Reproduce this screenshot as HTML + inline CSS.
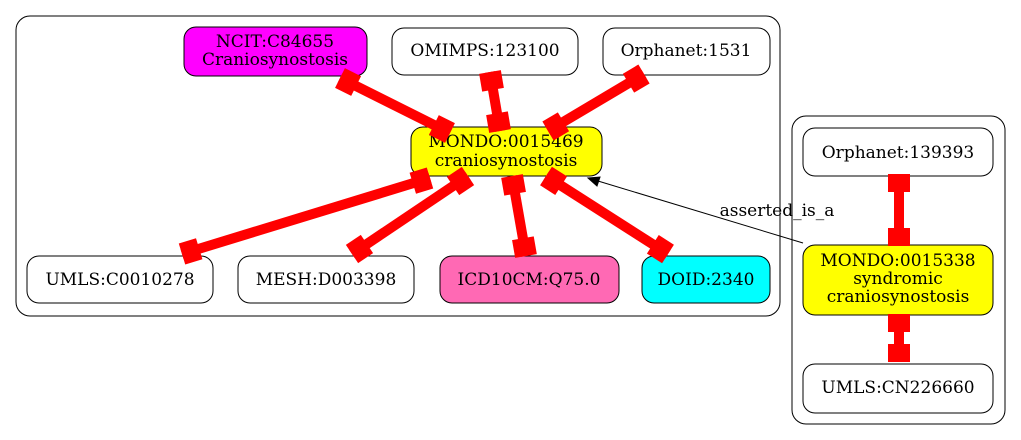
<!DOCTYPE html>
<html><head><meta charset="utf-8"><style>
html,body{margin:0;padding:0;background:#fff;width:1021px;height:440px;overflow:hidden}
svg text{font-family:"DejaVu Serif","Liberation Serif",serif;font-size:17px;text-anchor:middle}
</style></head><body>
<svg id="s" width="1021" height="440" viewBox="0 0 1021 440" xmlns="http://www.w3.org/2000/svg">
<rect x="16" y="16" width="764" height="300" rx="14" fill="#fff" stroke="#000"/>
<rect x="792" y="116" width="213" height="308" rx="14" fill="#fff" stroke="#000"/>
<g stroke="#000" stroke-width="1">
<rect x="184" y="27" width="183" height="49" rx="12" fill="#ff00ff"/>
<rect x="392" y="28" width="186" height="47" rx="12" fill="#fff"/>
<rect x="603" y="28" width="167" height="47" rx="12" fill="#fff"/>
<rect x="411" y="127" width="191" height="49" rx="12" fill="#ffff00"/>
<rect x="27" y="256" width="186" height="47" rx="12" fill="#fff"/>
<rect x="238" y="256" width="176" height="47" rx="12" fill="#fff"/>
<rect x="440" y="256" width="179" height="47" rx="12" fill="#ff69b4"/>
<rect x="642" y="256" width="128" height="47" rx="12" fill="#00ffff"/>
<rect x="803" y="128" width="190" height="48" rx="12" fill="#fff"/>
<rect x="803" y="245" width="190" height="70" rx="12" fill="#ffff00"/>
<rect x="803" y="364" width="190" height="49" rx="12" fill="#fff"/>
</g>
<g>
<text x="275" y="47">NCIT:C84655</text><text x="275" y="65">Craniosynostosis</text>
<text x="485" y="56">OMIMPS:123100</text>
<text x="686" y="56">Orphanet:1531</text>
<text x="506" y="147">MONDO:0015469</text><text x="506" y="166">craniosynostosis</text>
<text x="120" y="285">UMLS:C0010278</text>
<text x="326" y="285">MESH:D003398</text>
<text x="529" y="285">ICD10CM:Q75.0</text>
<text x="706" y="285">DOID:2340</text>
<text x="898" y="158">Orphanet:139393</text>
<text x="898" y="266">MONDO:0015338</text><text x="898" y="284">syndromic</text><text x="898" y="302">craniosynostosis</text>
<text x="898" y="393">UMLS:CN226660</text>
<text x="777" y="216">asserted_is_a</text>
</g>
<line x1="803" y1="243" x2="598" y2="181" stroke="#000" stroke-width="1"/>
<polygon points="588,178 600,177 597,186" fill="#000" stroke="#000"/>
<g id="e"></g>
</svg>
<script>
var edges=[[340,78,450,133],[490,72,500,131],[644,74,548,131],[430,178,182,254],[468,176,352,254],[512,176,526,256],[546,176,668,254],[899,174,899,246],[899,314,899,362]];
var g=document.getElementById('e'),h='';
edges.forEach(function(e){
var x1=e[0],y1=e[1],x2=e[2],y2=e[3],dx=x2-x1,dy=y2-y1,L=Math.hypot(dx,dy),ux=dx/L,uy=dy/L,a=Math.atan2(dy,dx)*180/Math.PI;
h+='<line x1="'+x1+'" y1="'+y1+'" x2="'+x2+'" y2="'+y2+'" stroke="red" stroke-width="10"/>';
[[x1+ux*9,y1+uy*9],[x2-ux*9,y2-uy*9]].forEach(function(c){
h+='<rect x="-9" y="-11" width="18" height="22" fill="red" transform="translate('+c[0]+','+c[1]+') rotate('+a+')"/>';});
});
g.innerHTML=h;
</script>
</body></html>
